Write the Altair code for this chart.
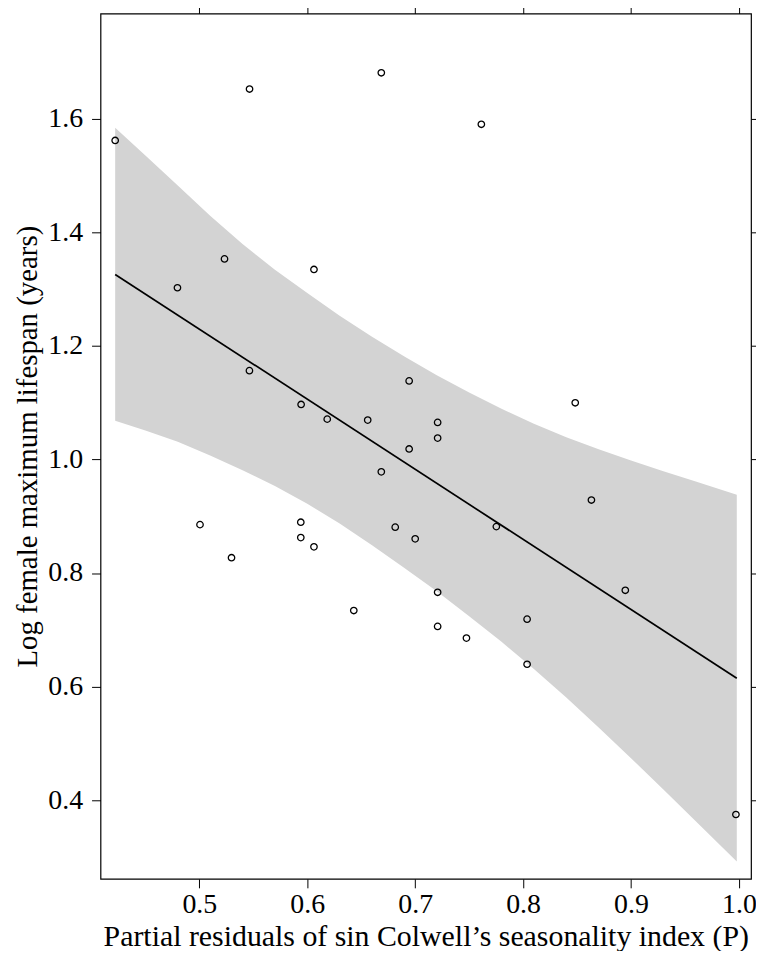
import altair as alt
import pandas as pd

# Scatter points (partial residual of seasonality index, log female max lifespan)
pt_x = [0.422, 0.5465, 0.6686, 0.7613, 0.5233, 0.4797, 0.6062, 0.5464, 0.5943,
        0.6185, 0.656, 0.6944, 0.6944, 0.6686, 0.7208, 0.7208, 0.8483, 0.5006,
        0.594, 0.594, 0.6062, 0.5298, 0.6815, 0.70, 0.6431, 0.8633, 0.7752,
        0.8947, 0.7208, 0.7208, 0.7475, 0.8037, 0.8037, 0.9972]
pt_y = [1.5615, 1.652, 1.6806, 1.590, 1.353, 1.3022, 1.3344, 1.1562, 1.0967,
        1.0709, 1.0692, 1.1382, 1.0184, 0.9781, 1.0651, 1.0376, 1.0997, 0.8852,
        0.8894, 0.8624, 0.8461, 0.8269, 0.8807, 0.8602, 0.7340, 0.9285, 0.8817,
        0.7696, 0.7661, 0.706, 0.6855, 0.7188, 0.6394, 0.3749]

# Confidence band
band_x = [0.422, 0.45, 0.48, 0.51, 0.54, 0.57, 0.60, 0.63, 0.66, 0.69, 0.72,
          0.75, 0.78, 0.81, 0.84, 0.87, 0.90, 0.93, 0.96, 0.998]
band_upper = [1.584, 1.535, 1.482, 1.429, 1.379, 1.334, 1.293, 1.253, 1.216,
              1.181, 1.148, 1.118, 1.089, 1.063, 1.039, 1.018, 0.998, 0.979,
              0.961, 0.938]
band_lower = [1.068, 1.051, 1.031, 1.007, 0.981, 0.953, 0.922, 0.887, 0.849,
              0.809, 0.768, 0.724, 0.679, 0.631, 0.581, 0.528, 0.474, 0.419,
              0.363, 0.292]

# Fitted line end points
line_x = [0.422, 0.998]
line_y = [1.3256, 0.6149]

x_ticks = [0.5, 0.6, 0.7, 0.8, 0.9, 1.0]
y_ticks = [0.4, 0.6, 0.8, 1.0, 1.2, 1.4, 1.6]

x_title = "Partial residuals of sin Colwell\u2019s seasonality index (P)"
y_title = "Log female maximum lifespan (years)"

FONT = "Liberation Serif"

pts_df = pd.DataFrame({"x": pt_x, "y": pt_y})
band_df = pd.DataFrame({"x": band_x, "upper": band_upper, "lower": band_lower})
line_df = pd.DataFrame({"x": line_x, "y": line_y})

xs = alt.Scale(domain=[0.4084, 1.0112], nice=False, zero=False)
ys = alt.Scale(domain=[0.2616, 1.785], nice=False, zero=False)

common_axis = dict(domain=False, grid=False, ticks=True, tickColor="black",
                   tickWidth=1, tickSize=9, labelFont=FONT, labelFontSize=28,
                   labelColor="black", titleFont=FONT,
                   titleColor="black", titleFontWeight="normal")

band = alt.Chart(band_df).mark_area(color="#d3d3d3", opacity=1).encode(
    x=alt.X("x:Q", scale=xs,
            axis=alt.Axis(orient="bottom", values=x_ticks, format=".1f",
                          title=x_title, labelPadding=3, titlePadding=3,
                          titleFontSize=30, **common_axis)),
    y=alt.Y("upper:Q", scale=ys,
            axis=alt.Axis(orient="left", values=y_ticks, format=".1f",
                          title=y_title, labelPadding=9, titlePadding=5,
                          titleFontSize=29, **common_axis)),
    y2="lower:Q",
)

line = alt.Chart(line_df).mark_line(color="black", strokeWidth=1.7).encode(
    x=alt.X("x:Q", scale=xs, axis=None),
    y=alt.Y("y:Q", scale=ys, axis=None),
)

points = alt.Chart(pts_df).mark_point(
    shape="circle", filled=False, color="black", size=42, strokeWidth=1.3,
    opacity=1
).encode(
    x=alt.X("x:Q", scale=xs, axis=None),
    y=alt.Y("y:Q", scale=ys, axis=None),
)

mirror = alt.Chart(pts_df).mark_point(opacity=0).encode(
    x=alt.X("x:Q", scale=xs,
            axis=alt.Axis(orient="top", values=x_ticks, labels=False,
                          title=None, **common_axis)),
    y=alt.Y("y:Q", scale=ys,
            axis=alt.Axis(orient="right", values=y_ticks, labels=False,
                          title=None, **common_axis)),
)

chart = alt.layer(band, line, points, mirror).resolve_axis(
    x="independent", y="independent"
).properties(
    width=654, height=870,
    autosize=alt.AutoSizeParams(type="none"),
    padding={"left": 93, "top": 3, "right": 5, "bottom": 70},
    background="white",
).configure_view(stroke="black", strokeWidth=1.2)

chart.save("out.html", embed_options={"renderer": "svg", "actions": False})
